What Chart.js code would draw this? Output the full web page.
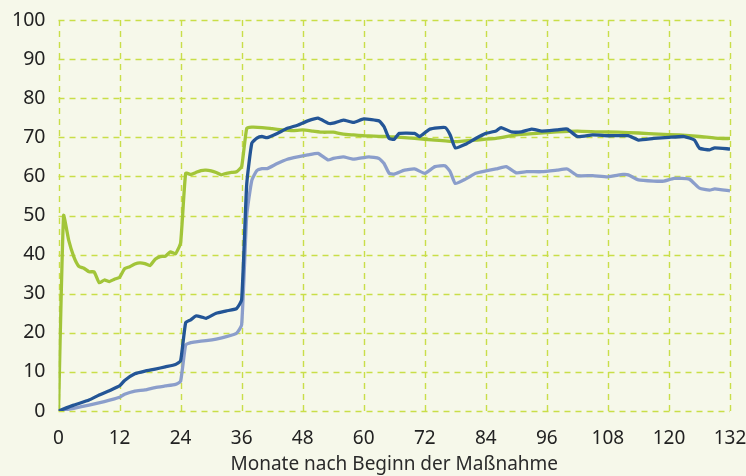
<!DOCTYPE html>
<html>
<head>
<meta charset="utf-8">
<script src="https://cdn.jsdelivr.net/npm/chart.js@4.4.1/dist/chart.umd.min.js"></script>
<style>
html,body{margin:0;padding:0;background:#f6f8ea;}
#wrap{width:746px;height:476px;}
</style>
</head>
<body>
<div id="wrap"><canvas id="c" width="746" height="476"></canvas></div>
<script>
const xTicks = [0,12,24,36,48,60,72,84,96,108,120,132];
const yTicks = [0,10,20,30,40,50,60,70,80,90,100];
const xTitle = "Monate nach Beginn der Maßnahme";

const greenMonths = [0,1,2,3,4,5,6,7,8,9,10,11,12,13,14,15,16,17,18,19,20,21,22,23,24,25,26,27,28,29,30,31,32,33,34,35,36,37,38,40,42,44,46,48,50,52,54,56,58,60,62,64,66,70,74,78,82,86,90,94,98,102,106,110,114,118,122,126,130,132];
const greenValues = [0,50,43.7,39.5,37,36.5,35.6,35.6,32.8,33.5,33.1,33.7,34.2,36.4,36.9,37.6,37.9,37.7,37.2,38.8,39.5,39.6,40.7,40.2,43,60.8,60.5,61,61.5,61.6,61.4,61,60.4,60.8,61,61.2,62.5,72.3,72.6,72.5,72.2,71.9,71.7,71.9,71.6,71.3,71.3,70.8,70.6,70.4,70.3,70.2,70.1,69.7,69.3,68.9,69.3,69.7,70.6,71,71.4,71.6,71.4,71.3,71.1,70.8,70.6,70.2,69.7,69.7];

const darkMonths = [0,3,6,8,10,12,13,15,17,19,21,23,24,25,26,27,28,29,31,33,35,36,37,38,39,40,41,43,45,47,49,51,53,54,56,58,60,63,64,65,66,67,70,71,73,76,77,78,80,82,84,86,87,89,91,93,95,98,100,102,105,108,112,114,117,120,123,125,126,128,129,132];
const darkValues = [0,1.5,2.8,4.1,5.2,6.4,7.8,9.5,10.2,10.7,11.3,11.9,12.8,22.6,23.3,24.3,24.1,23.7,25,25.6,26.2,28.4,58,68.5,69.8,70.2,69.9,71,72.3,73.1,74.2,74.9,73.6,73.6,74.4,73.8,74.7,74.2,72.7,69.7,69.5,71,71,70.2,72.1,72.5,70.6,67.3,68.2,69.7,71,71.6,72.5,71.4,71.4,72.1,71.6,71.9,72.1,70.2,70.6,70.4,70.4,69.3,69.7,70,70.2,69.3,67.2,66.8,67.3,67];

const lightMonths = [0,3,6,9,11,12,13,15,17,19,21,23,24,25,26,27,29,31,33,35,36,37,38,39,40,41,43,45,47,49,51,53,54,56,58,61,63,64,65,66,68,70,72,74,76,77,78,80,82,84,86,88,90,92,95,98,100,102,105,108,111,112,114,117,119,121,124,126,128,129,132];
const lightValues = [0,0.7,1.5,2.4,3.1,3.5,4.3,5.1,5.4,6,6.4,6.8,7.6,16.9,17.5,17.7,18,18.4,19,19.9,22,50,59,61.5,62,62,63.3,64.4,65,65.5,65.9,64.2,64.6,65,64.4,65,64.6,63.3,60.8,60.6,61.6,61.9,60.8,62.5,62.7,61.2,58.2,59.3,60.8,61.4,61.9,62.5,60.9,61.2,61.2,61.6,61.9,60.2,60.2,59.9,60.5,60.4,59.1,58.8,58.8,59.5,59.3,57,56.5,56.8,56.3];

function pts(xs, ys){ return xs.map((x,i)=>({x:x, y:ys[i]})); }

const gridColor = '#c9de48';
const fontFam = "'Noto Sans', 'DejaVu Sans', sans-serif";

const bgPlugin = {
  id:'bg',
  beforeDraw(chart){
    const ctx = chart.ctx;
    ctx.save();
    ctx.fillStyle = '#f6f8ea';
    ctx.fillRect(0,0,chart.width,chart.height);
    ctx.restore();
  }
};

const dashGrid = {
  id:'dashGrid',
  beforeDatasetsDraw(chart){
    const ctx = chart.ctx;
    const xs = chart.scales.x, ys = chart.scales.y;
    const a = chart.chartArea;
    ctx.save();
    ctx.strokeStyle = gridColor;
    ctx.lineWidth = 1.4;
    ctx.setLineDash([6,5]);
    xTicks.forEach(v=>{
      const px = Math.round(xs.getPixelForValue(v)) + 0.5;
      ctx.beginPath(); ctx.moveTo(px, a.top); ctx.lineTo(px, a.bottom); ctx.stroke();
    });
    yTicks.forEach(v=>{
      const py = Math.round(ys.getPixelForValue(v)) + 0.5;
      ctx.beginPath(); ctx.moveTo(a.left, py); ctx.lineTo(a.right, py); ctx.stroke();
    });
    ctx.restore();
  }
};

new Chart(document.getElementById('c'), {
  type:'line',
  data:{
    datasets:[
      {label:'green', data:pts(greenMonths, greenValues), borderColor:'#a2c539', borderWidth:3.3, pointRadius:0, tension:0.15, order:3},
      {label:'light', data:pts(lightMonths, lightValues), borderColor:'#8b9ecb', borderWidth:3.3, pointRadius:0, tension:0.15, order:2},
      {label:'dark', data:pts(darkMonths, darkValues), borderColor:'#235596', borderWidth:3.3, pointRadius:0, tension:0.15, order:1}
    ]
  },
  options:{
    responsive:false,
    animation:false,
    layout:{padding:{top:20,right:16,left:0,bottom:0}},
    plugins:{legend:{display:false}, tooltip:{enabled:false}},
    scales:{
      x:{
        type:'linear', min:0, max:132,
        afterBuildTicks(axis){ axis.ticks = xTicks.map(v=>({value:v})); },
        ticks:{color:'#222', font:{family:fontFam, size:19}, padding:16, maxRotation:0, autoSkip:false},
        grid:{display:false, drawTicks:false},
        border:{display:false},
        title:{display:true, text:xTitle, color:'#2a2a2a', font:{family:fontFam, size:19}, padding:{top:2,bottom:0}},
        afterFit(axis){ axis.height = 65; axis.paddingLeft = 0; axis.paddingRight = 0; }
      },
      y:{
        min:0, max:100,
        afterBuildTicks(axis){ axis.ticks = yTicks.map(v=>({value:v})); },
        ticks:{color:'#222', font:{family:fontFam, size:19.5}, padding:13},
        grid:{display:false, drawTicks:false},
        border:{display:false},
        afterFit(axis){ axis.width = 58.5; axis.paddingTop = 0; axis.paddingBottom = 0; }
      }
    }
  },
  plugins:[bgPlugin, dashGrid]
});
</script>
</body>
</html>
